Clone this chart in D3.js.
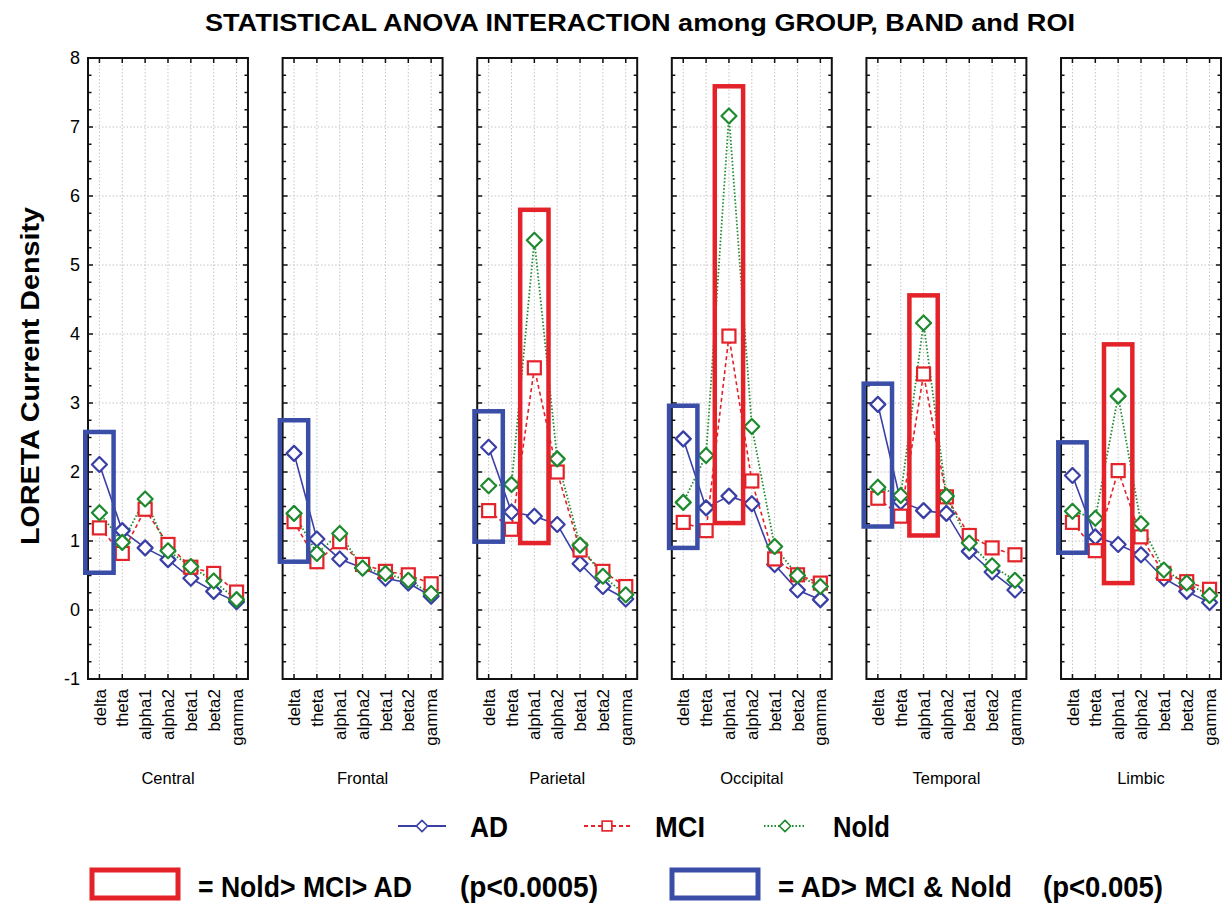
<!DOCTYPE html>
<html>
<head>
<meta charset="utf-8">
<script src="https://cdn.jsdelivr.net/npm/d3@7"></script>
<style>
  body { margin: 0; background: #fff; }
  text { font-family: "Liberation Sans", Arial, sans-serif; }
</style>
</head>
<body>
<div id="chart"></div>
<script>
// bands and regions of interest
const bands = ["delta", "theta", "alpha1", "alpha2", "beta1", "beta2", "gamma"];
const rois = ["Central", "Frontal", "Parietal", "Occipital", "Temporal", "Limbic"];

// mean LORETA current density per ROI (rows) and band (cols)
const adValues = [
    [2.11, 1.15, 0.90, 0.73, 0.46, 0.27, 0.12],
    [2.27, 1.03, 0.74, 0.61, 0.46, 0.39, 0.20],
    [2.36, 1.42, 1.36, 1.24, 0.67, 0.34, 0.16],
    [2.48, 1.48, 1.65, 1.54, 0.66, 0.29, 0.15],
    [2.98, 1.57, 1.44, 1.40, 0.85, 0.55, 0.29],
    [1.95, 1.06, 0.95, 0.80, 0.46, 0.27, 0.11]
]
const mciValues = [
    [1.19, 0.82, 1.46, 0.95, 0.62, 0.53, 0.26],
    [1.28, 0.70, 0.99, 0.66, 0.56, 0.51, 0.38],
    [1.44, 1.17, 3.51, 2.00, 0.87, 0.56, 0.34],
    [1.27, 1.15, 3.97, 1.87, 0.74, 0.51, 0.39],
    [1.62, 1.36, 3.42, 1.64, 1.08, 0.90, 0.80],
    [1.27, 0.86, 2.02, 1.06, 0.53, 0.41, 0.30]
]
const noldValues = [
    [1.41, 0.98, 1.61, 0.86, 0.63, 0.42, 0.15],
    [1.40, 0.82, 1.11, 0.61, 0.53, 0.43, 0.24],
    [1.80, 1.82, 5.36, 2.19, 0.94, 0.49, 0.22],
    [1.56, 2.24, 7.16, 2.66, 0.92, 0.50, 0.34],
    [1.78, 1.66, 4.16, 1.65, 0.97, 0.64, 0.43],
    [1.43, 1.33, 3.10, 1.25, 0.58, 0.39, 0.21]
]

// highlight boxes: [roi, band, low, high]
const redBoxes = [
    ["Parietal", "alpha1", 0.97, 5.80],
    ["Occipital", "alpha1", 1.26, 7.59],
    ["Temporal", "alpha1", 1.08, 4.56],
    ["Limbic", "alpha1", 0.39, 3.85]
]
const blueBoxes = [
    ["Central", "delta", 0.54, 2.58],
    ["Frontal", "delta", 0.70, 2.75],
    ["Parietal", "delta", 0.99, 2.88],
    ["Occipital", "delta", 0.90, 2.96],
    ["Temporal", "delta", 1.21, 3.28],
    ["Limbic", "delta", 0.83, 2.43]
]

const yTicks = [-1, 0, 1, 2, 3, 4, 5, 6, 7, 8];

const width = 1230
const height = 909
const BLUE = "#3a3fa6", RED = "#e4222a", GREEN = "#1d8a2e";
const BOX_BLUE = "#3a4ea8";

const svg = d3.select("#chart").append("svg")
    .attr("width", width)
    .attr("height", height)

const y = d3.scaleLinear().domain([-1, 8]).range([679, 58])
const xRoi = d3.scaleBand().domain(rois).range([88, 1221]).paddingInner(0.178).paddingOuter(0)
const xBand = d3.scalePoint().domain(bands).range([0, xRoi.bandwidth()]).padding(0.5)
const step = xBand.step()

const series = [
    { name: "AD", values: adValues, color: BLUE, dash: null, marker: "diamond" },
    { name: "MCI", values: mciValues, color: RED, dash: "4,3", marker: "square" },
    { name: "Nold", values: noldValues, color: GREEN, dash: "1.5,2", marker: "diamond" }
]

const drawMarker = (sel, kind, color) => {
    if (kind === "square") {
        sel.append("rect").attr("x", -6.5).attr("y", -6.5).attr("width", 13).attr("height", 13)
            .attr("fill", "#fff").attr("stroke", color).attr("stroke-width", 2.2)
    } else {
        sel.append("path").attr("d", "M0,-7.5L7.5,0L0,7.5L-7.5,0Z")
            .attr("fill", "#fff").attr("stroke", color).attr("stroke-width", 2.2)
            .attr("stroke-linejoin", "round")
    }
}

// title
svg.append("text")
    .attr("x", 640).attr("y", 31)
    .attr("text-anchor", "middle")
    .attr("font-size", 23).attr("font-weight", "bold")
    .attr("textLength", 870).attr("lengthAdjust", "spacingAndGlyphs")
    .text("STATISTICAL ANOVA INTERACTION among GROUP, BAND and ROI")

// y axis title
svg.append("text")
    .attr("transform", "translate(39,376) rotate(-90)")
    .attr("text-anchor", "middle")
    .attr("font-size", 26).attr("font-weight", "bold")
    .attr("textLength", 338).attr("lengthAdjust", "spacingAndGlyphs")
    .text("LORETA Current Density")

// y tick labels (first panel only)
svg.append("g").selectAll("text")
    .data(yTicks)
    .join("text")
    .attr("x", 80).attr("y", d => y(d))
    .attr("dy", "0.36em")
    .attr("text-anchor", "end")
    .attr("font-size", 18)
    .text(d => d)

const minorTicks = d3.range(-1, 8.001, 0.25)
const line = d3.line().x((d, i) => xBand(bands[i])).y(d => y(d))

rois.forEach((roi, r) => {
    const g = svg.append("g").attr("transform", `translate(${xRoi(roi)},0)`)
    const w = xRoi.bandwidth()

    // grid
    g.append("g").selectAll("line")
        .data(yTicks.slice(1, -1))
        .join("line")
        .attr("x1", 0).attr("x2", w)
        .attr("y1", d => y(d)).attr("y2", d => y(d))
        .attr("stroke", "#c4c4c4").attr("stroke-dasharray", "1.5,2")
    g.append("g").selectAll("line")
        .data(bands)
        .join("line")
        .attr("x1", d => xBand(d)).attr("x2", d => xBand(d))
        .attr("y1", y(8)).attr("y2", y(-1))
        .attr("stroke", "#c4c4c4").attr("stroke-dasharray", "1.5,2")

    // ticks on left and right borders, inward
    g.append("g").selectAll("line")
        .data(minorTicks)
        .join("line")
        .attr("x1", 0).attr("x2", d => Number.isInteger(d) ? 5 : 3.5)
        .attr("y1", d => y(d)).attr("y2", d => y(d))
        .attr("stroke", "#111").attr("stroke-width", 1.5)
    g.append("g").selectAll("line")
        .data(minorTicks)
        .join("line")
        .attr("x1", w).attr("x2", d => w - (Number.isInteger(d) ? 5 : 3.5))
        .attr("y1", d => y(d)).attr("y2", d => y(d))
        .attr("stroke", "#111").attr("stroke-width", 1.5)
    // ticks on top and bottom at each band
    g.append("g").selectAll("line")
        .data(bands)
        .join("line")
        .attr("x1", d => xBand(d)).attr("x2", d => xBand(d))
        .attr("y1", y(8)).attr("y2", y(8) + 5)
        .attr("stroke", "#111").attr("stroke-width", 1.5)
    g.append("g").selectAll("line")
        .data(bands)
        .join("line")
        .attr("x1", d => xBand(d)).attr("x2", d => xBand(d))
        .attr("y1", y(-1)).attr("y2", y(-1) - 5)
        .attr("stroke", "#111").attr("stroke-width", 1.5)

    // frame
    g.append("rect")
        .attr("x", 0).attr("y", y(8))
        .attr("width", w).attr("height", y(-1) - y(8))
        .attr("fill", "none").attr("stroke", "#111").attr("stroke-width", 2)

    // band labels, rotated
    g.append("g").selectAll("text")
        .data(bands)
        .join("text")
        .attr("transform", d => `translate(${xBand(d)},${y(-1) + 10}) rotate(-90)`)
        .attr("dy", "0.36em")
        .attr("text-anchor", "end")
        .attr("font-size", 17)
        .text(d => d)

    // roi label
    g.append("text")
        .attr("x", w / 2).attr("y", 784)
        .attr("text-anchor", "middle")
        .attr("font-size", 16.5)
        .text(roi)

    // series
    series.forEach(s => {
        const vals = s.values[r]
        g.append("path")
            .datum(vals)
            .attr("d", line)
            .attr("fill", "none")
            .attr("stroke", s.color)
            .attr("stroke-width", s.dash === "1.5,2" ? 1.8 : 1.6)
            .attr("stroke-dasharray", s.dash)
    })
    series.forEach(s => {
        const vals = s.values[r]
        g.append("g").selectAll("g")
            .data(vals)
            .join("g")
            .attr("transform", (d, i) => `translate(${xBand(bands[i])},${y(d)})`)
            .each(function () { drawMarker(d3.select(this), s.marker, s.color) })
    })
})

// highlight boxes
const drawBoxes = (boxes, color) => {
    svg.append("g").selectAll("rect")
        .data(boxes)
        .join("rect")
        .attr("x", d => xRoi(d[0]) + xBand(d[1]) - step * 0.62)
        .attr("width", step * 1.24)
        .attr("y", d => y(d[3]))
        .attr("height", d => y(d[2]) - y(d[3]))
        .attr("fill", "none")
        .attr("stroke", color)
        .attr("stroke-width", 4.5)
}
drawBoxes(blueBoxes, BOX_BLUE)
drawBoxes(redBoxes, RED)

// series legend
const legendPos = [{ x: 398, tx: 470, len: 48, tl: 38 }, { x: 584, tx: 655, len: 46, tl: 50 }, { x: 764, tx: 833, len: 42, tl: 57 }]
series.forEach((s, i) => {
    const p = legendPos[i]
    const lg = svg.append("g").attr("transform", `translate(0,826)`)
    lg.append("line")
        .attr("x1", p.x).attr("x2", p.x + p.len)
        .attr("stroke", s.color).attr("stroke-width", 1.8)
        .attr("stroke-dasharray", s.dash)
    const m = lg.append("g").attr("transform", `translate(${p.x + p.len / 2},0) scale(0.75)`)
    drawMarker(m, s.marker, s.color)
    lg.append("text")
        .attr("x", p.tx).attr("y", 11)
        .attr("font-size", 29).attr("font-weight", "bold")
        .attr("textLength", p.tl).attr("lengthAdjust", "spacingAndGlyphs")
        .text(s.name)
})

// box legend
const boxLegend = [
    { color: RED, x: 92, label: "= Nold> MCI> AD", lx: 198, ll: 214, p: "(p<0.0005)", px: 460, pl: 138 },
    { color: BOX_BLUE, x: 672, label: "= AD> MCI & Nold", lx: 778, ll: 234, p: "(p<0.005)", px: 1043, pl: 120 }
]
boxLegend.forEach(b => {
    svg.append("rect")
        .attr("x", b.x).attr("y", 870)
        .attr("width", 86).attr("height", 28)
        .attr("fill", "none").attr("stroke", b.color).attr("stroke-width", 5)
    svg.append("text")
        .attr("x", b.lx).attr("y", 897)
        .attr("font-size", 29).attr("font-weight", "bold")
        .attr("textLength", b.ll).attr("lengthAdjust", "spacingAndGlyphs")
        .text(b.label)
    svg.append("text")
        .attr("x", b.px).attr("y", 897)
        .attr("font-size", 29).attr("font-weight", "bold")
        .attr("textLength", b.pl).attr("lengthAdjust", "spacingAndGlyphs")
        .text(b.p)
})
</script>
</body>
</html>
